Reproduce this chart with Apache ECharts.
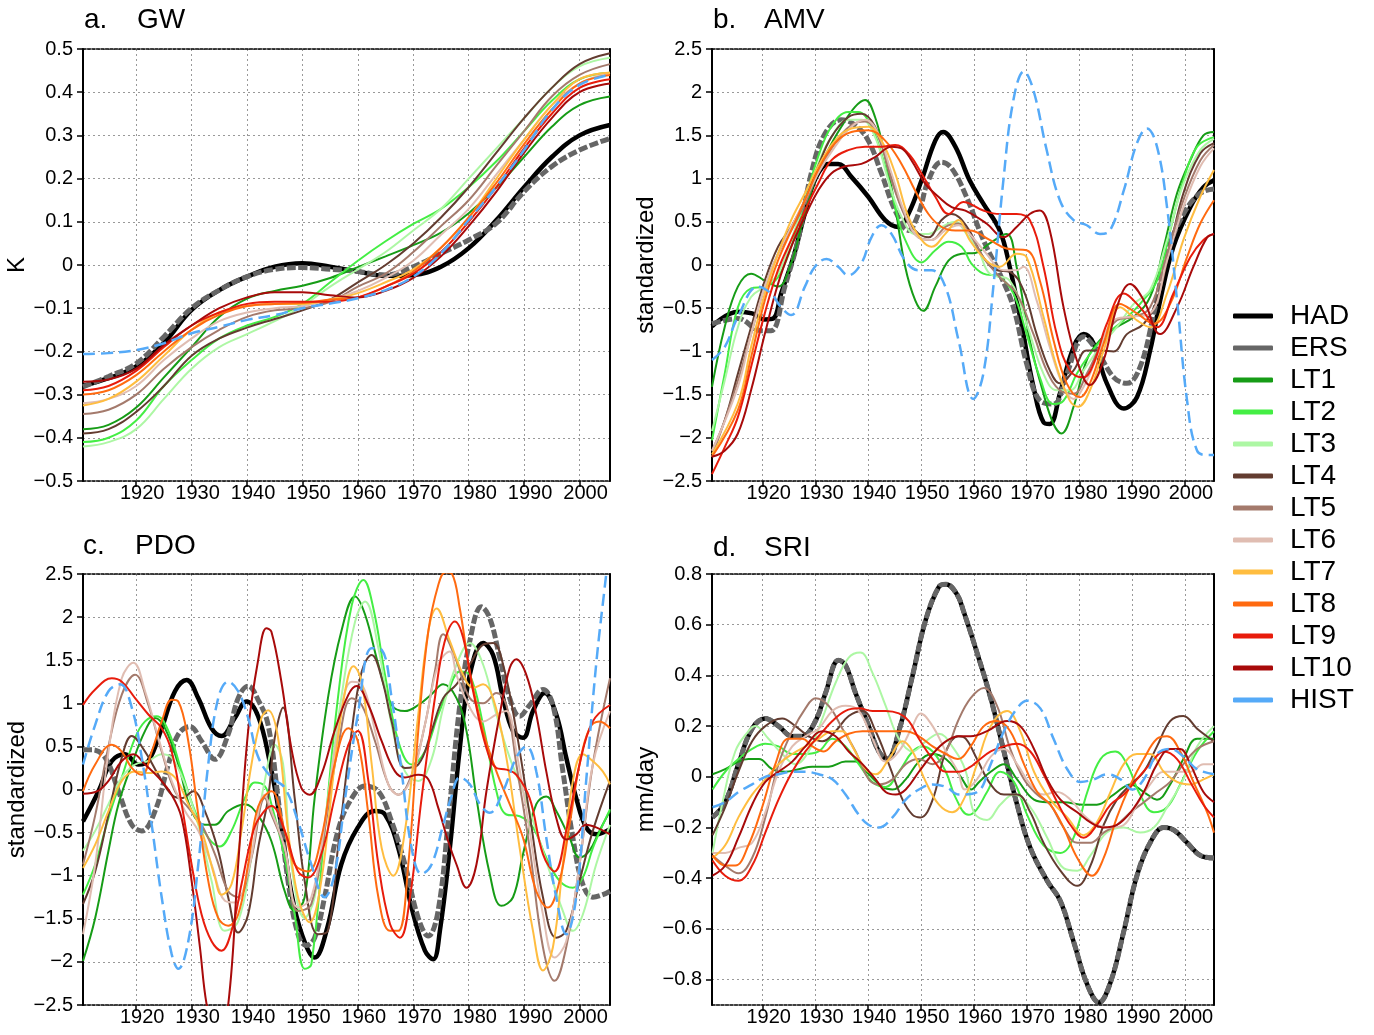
<!DOCTYPE html>
<html><head><meta charset="utf-8">
<script src="https://cdn.jsdelivr.net/npm/echarts@6/dist/echarts.min.js"></script>
<style>html,body{margin:0;padding:0;background:#fff}#c{width:1374px;height:1035px}</style>
</head><body><div id="c"></div>
<script>
// ---------------- data ----------------
const seriesNames = ['HAD','ERS','LT1','LT2','LT3','LT4','LT5','LT6','LT7','LT8','LT9','LT10','HIST'];
const decadeTicks = [1920,1930,1940,1950,1960,1970,1980,1990,2000];
const sriTicks = [-0.8,-0.6,-0.4,-0.2,0,0.2,0.4,0.6,0.8];

// a. GW (K), sampled at gwYears
const gwYears = [1910.4,1915,1920,1925,1930,1935,1940,1945,1950,1955,1960,1965,1970,1975,1980,1985,1990,1995,2000,2005.5];
const gw_HAD  = [-0.28,-0.262,-0.235,-0.18,-0.104,-0.058,-0.027,-0.004,0.004,-0.004,-0.015,-0.025,-0.023,-0.004,0.039,0.104,0.18,0.25,0.3,0.324];
const gw_ERS  = [-0.282,-0.258,-0.228,-0.166,-0.1,-0.058,-0.027,-0.01,-0.006,-0.01,-0.015,-0.023,-0.004,0.027,0.058,0.097,0.17,0.228,0.266,0.293];
const gw_LT1  = [-0.38,-0.37,-0.33,-0.26,-0.19,-0.12,-0.078,-0.06,-0.048,-0.03,-0.005,0.02,0.046,0.075,0.12,0.18,0.25,0.32,0.37,0.39];
const gw_LT2  = [-0.41,-0.40,-0.36,-0.28,-0.22,-0.17,-0.14,-0.12,-0.09,-0.04,0.01,0.055,0.095,0.13,0.18,0.24,0.31,0.38,0.43,0.445];
const gw_LT3  = [-0.42,-0.41,-0.38,-0.31,-0.24,-0.19,-0.16,-0.13,-0.095,-0.05,-0.01,0.03,0.08,0.13,0.2,0.27,0.34,0.41,0.46,0.48];
const gw_LT4  = [-0.39,-0.38,-0.34,-0.28,-0.21,-0.17,-0.145,-0.125,-0.105,-0.08,-0.04,0.0,0.05,0.11,0.18,0.26,0.34,0.41,0.465,0.49];
const gw_LT5  = [-0.345,-0.335,-0.3,-0.24,-0.19,-0.15,-0.12,-0.105,-0.1,-0.085,-0.05,-0.02,0.03,0.09,0.15,0.23,0.31,0.39,0.44,0.465];
const gw_LT6  = [-0.32,-0.31,-0.28,-0.22,-0.17,-0.13,-0.11,-0.1,-0.095,-0.08,-0.06,-0.03,0.01,0.07,0.13,0.21,0.29,0.37,0.42,0.445];
const gw_LT7  = [-0.325,-0.31,-0.27,-0.21,-0.15,-0.11,-0.095,-0.09,-0.09,-0.08,-0.065,-0.04,-0.01,0.04,0.11,0.2,0.29,0.37,0.43,0.445];
const gw_LT8  = [-0.3,-0.29,-0.255,-0.2,-0.15,-0.115,-0.095,-0.09,-0.088,-0.08,-0.075,-0.05,-0.015,0.04,0.11,0.19,0.28,0.36,0.42,0.44];
const gw_LT9  = [-0.29,-0.28,-0.245,-0.19,-0.14,-0.11,-0.09,-0.085,-0.085,-0.085,-0.075,-0.05,-0.02,0.03,0.1,0.18,0.27,0.35,0.41,0.43];
const gw_LT10 = [-0.27,-0.265,-0.24,-0.185,-0.14,-0.1,-0.075,-0.063,-0.063,-0.07,-0.075,-0.06,-0.03,0.02,0.09,0.17,0.26,0.34,0.4,0.42];
const gw_HIST = [-0.206,-0.204,-0.197,-0.181,-0.158,-0.143,-0.127,-0.116,-0.1,-0.089,-0.077,-0.058,-0.027,0.027,0.104,0.181,0.266,0.359,0.417,0.44];

// b. AMV (standardized), [year, value]
const amv_HAD = [[1910.4,-0.71],[1915.3,-0.54],[1918,-0.56],[1920.4,-0.63],[1922,-0.62],[1923.5,-0.33],[1926,0.13],[1928,0.6],[1930,1.0],[1932.4,1.17],[1934.3,1.17],[1936.8,1.02],[1940,0.79],[1943.2,0.52],[1945.7,0.44],[1947.6,0.59],[1950.1,0.98],[1952.7,1.44],[1954.2,1.54],[1956.5,1.37],[1959.2,0.98],[1961.8,0.71],[1964.9,0.40],[1966.8,-0.02],[1969,-0.68],[1971.3,-1.41],[1973.2,-1.82],[1974.4,-1.84],[1976.3,-1.49],[1978.9,-0.95],[1980.8,-0.8],[1982.7,-0.91],[1985.2,-1.37],[1988.4,-1.66],[1990.9,-1.53],[1993.4,-0.99],[1995.3,-0.41],[1997.8,0.21],[2001,0.67],[2003.5,0.9],[2005.5,0.98]];
const amv_ERS = [[1910.4,-0.68],[1915.3,-0.62],[1919.7,-0.76],[1921.6,-0.76],[1924.2,-0.25],[1926.7,0.29],[1929.2,1.06],[1931.8,1.52],[1934.9,1.68],[1937.5,1.62],[1940,1.44],[1942.5,1.06],[1945.1,0.63],[1947.6,0.40],[1949.5,0.59],[1951.4,0.98],[1953.9,1.19],[1955.8,1.12],[1958.6,0.79],[1961.8,0.29],[1964.9,-0.1],[1967.5,-0.49],[1970,-1.14],[1972.5,-1.57],[1975.1,-1.61],[1977.6,-1.26],[1980.8,-0.83],[1983.3,-0.99],[1986.5,-1.3],[1989,-1.37],[1991.5,-1.18],[1994.1,-0.56],[1996.6,0.13],[1999.7,0.59],[2002.9,0.83],[2005.5,0.88]];
const amv_LT1 = [[1910.4,-1.41],[1912.8,-0.72],[1915.3,-0.25],[1917.8,-0.1],[1920.4,-0.18],[1922.9,-0.25],[1925.4,0.02],[1927.3,0.44],[1929.9,0.98],[1932.4,1.33],[1934.9,1.6],[1937.5,1.83],[1939.4,1.91],[1941.3,1.71],[1943.2,1.25],[1945.1,0.67],[1947,-0.02],[1948.9,-0.41],[1950.4,-0.53],[1952.7,-0.25],[1955.2,0.05],[1957.7,0.13],[1960.3,0.14],[1963,0.25],[1966.2,0.36],[1968.1,-0.02],[1970.6,-0.87],[1973.2,-1.49],[1975.1,-1.84],[1976.6,-1.95],[1978.9,-1.64],[1981.4,-1.1],[1983.9,-0.87],[1987.1,-0.72],[1990.3,-0.6],[1993.4,-0.37],[1996,0.21],[1998.5,0.83],[2001,1.21],[2003.5,1.5],[2005.5,1.54]];
const amv_LT2 = [[1910.4,-2.03],[1912.8,-1.26],[1915.3,-0.49],[1917.8,-0.27],[1920.4,-0.25],[1922.9,-0.14],[1925.4,0.21],[1928,0.75],[1930.5,1.25],[1933,1.6],[1936.2,1.77],[1938.1,1.77],[1940.6,1.6],[1943.2,1.14],[1945.1,0.67],[1947,0.29],[1950.1,0.03],[1952.7,0.17],[1955.2,0.27],[1957.7,0.21],[1959.5,0.02],[1961.8,-0.1],[1964.9,-0.14],[1967.5,-0.33],[1970,-0.8],[1972.5,-1.3],[1975.1,-1.61],[1977,-1.57],[1979.5,-1.26],[1982,-1.03],[1985.2,-0.8],[1988.4,-0.64],[1991.5,-0.45],[1994.7,-0.18],[1997.2,0.4],[1999.7,0.98],[2002.3,1.37],[2005.5,1.48]];
const amv_LT3 = [[1910.4,-1.92],[1912.8,-1.34],[1915.3,-0.72],[1917.8,-0.37],[1920.4,-0.25],[1922.9,-0.1],[1925.4,0.29],[1928,0.75],[1930.5,1.17],[1933,1.48],[1936.2,1.68],[1938.7,1.68],[1941.3,1.48],[1943.8,0.98],[1946.3,0.56],[1948.9,0.36],[1951.4,0.36],[1953.9,0.44],[1956.5,0.5],[1958.6,0.36],[1961,0.15],[1963,-0.1],[1966.8,-0.18],[1970,-0.68],[1973.2,-1.26],[1975.7,-1.45],[1978.2,-1.45],[1980.8,-1.22],[1983.9,-0.95],[1987.1,-0.72],[1990.3,-0.45],[1993.4,-0.29],[1996.6,0.29],[1999.7,0.94],[2002.9,1.33],[2005.5,1.46]];
const amv_LT4 = [[1910.4,-2.15],[1912.8,-1.8],[1915.3,-1.26],[1917.8,-0.72],[1920.4,-0.18],[1922.9,0.21],[1925.4,0.44],[1928,0.75],[1930.5,1.14],[1933,1.48],[1936.2,1.71],[1938.7,1.75],[1941.3,1.6],[1943.8,1.14],[1946.3,0.67],[1948.9,0.40],[1951.4,0.32],[1953.9,0.52],[1955.8,0.59],[1958.6,0.45],[1961.8,0.09],[1964.3,-0.06],[1966.8,-0.08],[1969.4,-0.29],[1971.9,-0.8],[1974.4,-1.22],[1976.3,-1.37],[1978.9,-1.22],[1981.4,-0.99],[1983.9,-0.99],[1986.5,-1.0],[1989,-0.8],[1992.2,-0.68],[1994.7,-0.41],[1997.2,0.21],[1999.7,0.83],[2002.9,1.29],[2005.5,1.41]];
const amv_LT5 = [[1910.4,-2.22],[1915.3,-1.34],[1917.8,-0.8],[1920.4,-0.25],[1922.9,0.13],[1925.4,0.4],[1928,0.71],[1930.5,1.06],[1933.7,1.41],[1936.8,1.62],[1939.4,1.66],[1941.9,1.48],[1944.4,0.98],[1947,0.56],[1949.5,0.32],[1952,0.29],[1954.6,0.44],[1957.1,0.48],[1959.2,0.36],[1961.8,0.09],[1964.9,-0.14],[1968.1,-0.33],[1971.3,-0.8],[1973.8,-1.22],[1976.3,-1.45],[1978.9,-1.49],[1981.4,-1.26],[1983.9,-0.95],[1987.1,-0.64],[1990.3,-0.6],[1993.4,-0.49],[1996.6,0.13],[1999.7,0.75],[2002.9,1.21],[2005.5,1.39]];
const amv_LT6 = [[1910.4,-2.15],[1915.3,-1.41],[1917.8,-0.8],[1920.4,-0.25],[1922.9,0.13],[1925.4,0.44],[1928,0.75],[1930.5,1.06],[1933.7,1.37],[1936.8,1.6],[1939.4,1.68],[1941.9,1.52],[1944.4,1.06],[1947,0.59],[1949.5,0.32],[1952,0.29],[1954.6,0.40],[1957.1,0.46],[1959.2,0.36],[1962.4,0.13],[1965.6,-0.06],[1968.1,-0.06],[1969.4,-0.02],[1971.9,-0.41],[1974.4,-0.95],[1977,-1.41],[1978.9,-1.55],[1980.8,-1.41],[1983.3,-1.07],[1986.5,-0.64],[1989.6,-0.6],[1993.4,-0.56],[1996.6,0.05],[1999.7,0.67],[2002.9,1.14],[2005.5,1.35]];
const amv_LT7 = [[1910.4,-2.19],[1915.3,-1.6],[1917.8,-0.95],[1920.4,-0.33],[1922.9,0.13],[1925.4,0.52],[1928,0.83],[1930.5,1.14],[1933.7,1.44],[1936.8,1.58],[1940,1.6],[1942.5,1.44],[1945.1,1.06],[1947.6,0.56],[1950.1,0.29],[1952,0.21],[1954.6,0.36],[1957.1,0.52],[1959.2,0.29],[1962.4,0.05],[1964.9,-0.02],[1968.1,0.13],[1970,0.09],[1973.2,-0.6],[1975.7,-1.18],[1978.2,-1.57],[1979.8,-1.64],[1982,-1.45],[1984.6,-0.99],[1987.7,-0.49],[1990.9,-0.64],[1993.4,-0.72],[1996.6,-0.33],[1999.7,0.29],[2002.9,0.79],[2005.5,1.1]];
const amv_LT8 = [[1910.4,-2.22],[1915.3,-1.68],[1917.8,-1.07],[1920.4,-0.41],[1922.9,0.05],[1925.4,0.4],[1928,0.75],[1930.5,1.1],[1933.7,1.41],[1936.8,1.54],[1940,1.56],[1943.2,1.44],[1946.3,1.17],[1948.9,0.86],[1951.4,0.59],[1953.9,0.44],[1956.5,0.4],[1959.2,0.4],[1963,0.29],[1966.2,0.19],[1970,0.17],[1972.5,-0.18],[1975.1,-0.87],[1977.6,-1.37],[1980.1,-1.53],[1982,-1.37],[1984.6,-0.91],[1987.7,-0.45],[1990.9,-0.56],[1994.1,-0.68],[1997.2,-0.45],[2000.4,0.09],[2002.9,0.48],[2005.5,0.75]];
const amv_LT9 = [[1910.4,-2.42],[1912.8,-2.11],[1915.3,-1.76],[1917.8,-1.18],[1920.4,-0.56],[1922.9,-0.06],[1925.4,0.29],[1928,0.63],[1930.5,0.94],[1933,1.21],[1936.2,1.33],[1939.4,1.37],[1942.5,1.37],[1945.1,1.39],[1947.6,1.29],[1950.1,1.06],[1952.7,0.79],[1955.2,0.59],[1958,0.73],[1961.8,0.63],[1964.9,0.59],[1968.1,0.59],[1970.6,0.52],[1973.2,-0.02],[1975.7,-0.8],[1978.2,-1.22],[1980.8,-1.3],[1982.7,-1.14],[1985.2,-0.68],[1988.4,-0.33],[1991.5,-0.49],[1994.7,-0.72],[1997.8,-0.33],[2001,0.09],[2003.5,0.29],[2005.5,0.36]];
const amv_LT10 = [[1910.4,-2.22],[1912.8,-2.15],[1915.3,-1.95],[1917.8,-1.45],[1920.4,-0.8],[1922.9,-0.22],[1925.4,0.21],[1928,0.56],[1930.5,0.86],[1933,1.06],[1935.5,1.14],[1938.7,1.17],[1941.3,1.25],[1944.4,1.37],[1946.3,1.35],[1948.2,1.21],[1950.8,0.94],[1953.3,0.79],[1955.8,0.67],[1958.4,0.63],[1962.4,0.48],[1965.6,0.32],[1968.1,0.44],[1970.6,0.59],[1972.5,0.63],[1974.4,0.4],[1977,-0.49],[1979.5,-1.1],[1982,-1.39],[1984.6,-1.1],[1987.1,-0.49],[1989.6,-0.22],[1992.2,-0.41],[1995.3,-0.8],[1998.5,-0.49],[2001.6,-0.02],[2004.2,0.32],[2005.5,0.36]];
const amv_HIST = [[1910.4,-1.1],[1912.8,-0.95],[1915.3,-0.6],[1919.1,-0.25],[1921.6,-0.33],[1923.5,-0.49],[1925.4,-0.58],[1928,-0.25],[1929.9,-0.02],[1932.1,0.07],[1934.3,-0.02],[1936.2,-0.12],[1938.7,0.02],[1940.6,0.32],[1942.5,0.46],[1944.4,0.36],[1947,0.05],[1949.5,-0.06],[1952,-0.06],[1954.6,-0.25],[1957.1,-0.87],[1959.9,-1.55],[1961.8,-1.26],[1963.7,-0.25],[1965.6,0.98],[1967.5,1.91],[1969.5,2.24],[1971.3,2.02],[1973.8,1.33],[1976.3,0.75],[1978.9,0.52],[1981.4,0.46],[1983.9,0.36],[1985.8,0.40],[1988.4,0.86],[1990.9,1.41],[1992.8,1.58],[1994.7,1.37],[1996.6,0.67],[1998.5,-0.41],[2000.4,-1.57],[2002.3,-2.15],[2004.5,-2.2],[2005.5,-2.2]];

// c. PDO (standardized), [year, value]
const pdo_HAD = [[1910.4,-0.37],[1913.2,-0.02],[1915.6,0.33],[1918,0.41],[1920.4,0.29],[1922.2,0.33],[1924.6,0.71],[1927,1.14],[1929.1,1.27],[1931.2,1.06],[1933.6,0.71],[1935.4,0.62],[1937.8,0.83],[1939.9,1.02],[1942,0.85],[1944,0.35],[1946,-0.35],[1948,-1.2],[1950,-1.7],[1952.2,-1.95],[1954.5,-1.6],[1957,-0.87],[1960,-0.44],[1963,-0.25],[1964.9,-0.29],[1967.3,-0.68],[1969.7,-1.37],[1972.1,-1.87],[1973.6,-1.97],[1974.8,-1.64],[1976.6,-0.68],[1978.4,0.48],[1980.2,1.33],[1982.6,1.7],[1984.4,1.56],[1986.2,1.06],[1988,0.68],[1989.8,0.6],[1991.6,0.91],[1993.7,1.12],[1995.8,0.87],[1997.6,0.37],[1999.4,-0.1],[2001.2,-0.44],[2003,-0.52],[2005.5,-0.46]];
const pdo_ERS = [[1910.4,0.46],[1912,0.46],[1914.4,0.37],[1916.8,-0.02],[1919.2,-0.41],[1921,-0.48],[1923.4,-0.25],[1925.8,0.29],[1927.6,0.64],[1929.7,0.73],[1931.8,0.56],[1934.2,0.35],[1936.6,0.64],[1938.4,1.06],[1940.2,1.2],[1942,1.04],[1943.8,0.75],[1945.6,-0.1],[1947.4,-1.06],[1949.2,-1.68],[1950.7,-1.81],[1952.2,-1.72],[1954,-1.25],[1956.4,-0.48],[1958.9,-0.1],[1961.3,0.04],[1963.7,-0.02],[1966.1,-0.37],[1968.5,-0.87],[1970.9,-1.49],[1972.7,-1.7],[1974.5,-1.4],[1976.4,-0.3],[1978.4,0.98],[1980.2,1.72],[1982.3,2.12],[1983.8,1.99],[1985.6,1.53],[1987.4,1.06],[1989.2,0.85],[1991,0.98],[1993.4,1.16],[1995.2,0.98],[1997,0.21],[1998.8,-0.56],[2000.6,-1.1],[2002.4,-1.25],[2004.2,-1.22],[2005.5,-1.18]];
const pdo_LT1 = [[1910.4,-1.99],[1912.6,-1.49],[1915,-0.71],[1916.8,-0.17],[1919.2,0.29],[1921.6,0.68],[1923.4,0.83],[1925.2,0.71],[1927.6,0.29],[1930,-0.25],[1932.4,-0.41],[1934.2,-0.41],[1936.6,-0.25],[1939.6,-0.17],[1942,-0.3],[1944.4,-0.6],[1946.8,-1.18],[1948.6,-1.41],[1950.4,-1.25],[1952.2,-0.1],[1954.6,1.06],[1957,1.83],[1959.5,2.24],[1961.3,2.03],[1963.7,1.45],[1966.1,0.98],[1968.5,0.91],[1970.9,0.98],[1973.2,1.1],[1975.4,1.22],[1977.8,1.06],[1979.6,0.68],[1981.4,-0.1],[1983.8,-0.98],[1985.9,-1.35],[1988,-1.25],[1989.8,-0.75],[1992.2,-0.17],[1994,-0.08],[1995.8,-0.25],[1998.2,-0.56],[2000,-0.79],[2001.8,-0.71],[2003.6,-0.48],[2005.5,-0.25]];
const pdo_LT2 = [[1910.4,-1.22],[1912.6,-0.87],[1915,-0.33],[1917.4,0.14],[1919.8,0.6],[1921.6,0.79],[1923.7,0.85],[1925.8,0.68],[1928.2,0.21],[1930.6,-0.25],[1933,-0.56],[1935.1,-0.66],[1937.2,-0.48],[1939.6,-0.1],[1941.4,0.08],[1943.2,0.04],[1944.4,-0.17],[1946.8,-0.79],[1948.6,-1.45],[1950.4,-2.08],[1951.6,-2.03],[1954,-0.48],[1956.4,1.06],[1958.9,2.14],[1961,2.43],[1962.8,2.1],[1964.9,1.33],[1967.3,0.56],[1969.7,0.29],[1972.1,0.44],[1974.5,0.87],[1976.3,1.14],[1978.4,1.37],[1980.2,1.33],[1982.6,0.75],[1985,-0.02],[1986.8,-0.29],[1989.2,-0.31],[1991.6,-0.44],[1994,-0.79],[1996.4,-1.06],[1998.8,-1.14],[2000.6,-1.02],[2002.4,-0.68],[2004.2,-0.41],[2005.5,-0.23]];
const pdo_LT3 = [[1910.4,-0.71],[1912.6,-0.48],[1915,-0.17],[1917.4,0.14],[1919.8,0.29],[1922.2,0.33],[1924.6,0.41],[1926.4,0.37],[1928.8,0.06],[1931.2,-0.41],[1933.6,-1.06],[1936,-1.64],[1938.4,-1.53],[1940.8,-0.79],[1943.2,0.1],[1945,0.52],[1946.5,0.3],[1948,-0.87],[1950.4,-1.49],[1952.2,-1.25],[1954.6,-0.1],[1957,1.06],[1959.5,1.95],[1961.3,2.18],[1963.7,1.64],[1966.1,0.75],[1968.5,0.21],[1970.9,0.1],[1973.3,0.35],[1975.4,0.95],[1977.8,1.45],[1980.2,1.7],[1982.6,1.45],[1985,0.87],[1987.4,0.37],[1989.8,-0.02],[1992.2,-0.48],[1994.6,-0.95],[1997,-1.41],[1998.8,-1.64],[2000.6,-1.45],[2003,-0.87],[2005.5,-0.41]];
const pdo_LT4 = [[1910.4,-1.33],[1912.6,-0.95],[1915,-0.29],[1917.4,0.37],[1919.2,0.62],[1921.6,0.44],[1924,0.17],[1926.4,-0.06],[1928.2,-0.1],[1930.3,-0.02],[1932.4,-0.25],[1934.8,-0.71],[1936.6,-1.25],[1938.4,-1.66],[1940.2,-1.45],[1942,-0.68],[1943.8,-0.1],[1945,0.6],[1946.5,0.95],[1948.6,-0.1],[1950.4,-1.06],[1952.8,-1.68],[1954.6,-1.64],[1956.4,-0.68],[1958.9,0.68],[1960.7,1.37],[1962.5,1.56],[1964.3,1.29],[1966.1,0.79],[1968.5,0.25],[1970.9,0.29],[1973.3,0.68],[1975.4,1.06],[1977.8,1.22],[1980.2,1.45],[1982.6,1.68],[1984.4,1.7],[1986.2,1.45],[1988.6,0.68],[1991,-0.29],[1993.4,-1.25],[1995.8,-1.72],[1997.6,-1.64],[2000,-1.06],[2002.4,-0.48],[2005.5,0.1]];
const pdo_LT5 = [[1910.4,-0.87],[1912.6,-0.3],[1915,0.5],[1917.4,1.1],[1919.8,1.33],[1922.2,0.98],[1924.6,0.44],[1927,-0.02],[1929.4,-0.21],[1931.8,-0.41],[1934.2,-0.75],[1936.6,-1.18],[1938.4,-1.25],[1940.8,-0.79],[1943.2,-0.1],[1944.4,-0.29],[1946.8,-0.68],[1949.2,-1.41],[1951.6,-1.33],[1954,-0.48],[1956.4,0.48],[1958.9,1.06],[1960.7,0.98],[1963.1,0.56],[1965.5,0.06],[1967.3,-0.06],[1969.7,0.17],[1972.1,0.75],[1973.9,1.37],[1975.4,1.8],[1977.8,1.49],[1980.2,1.06],[1982.6,1.0],[1985,1.12],[1986.8,0.98],[1988.6,0.29],[1991,-0.68],[1993.4,-1.83],[1995.5,-2.22],[1997.6,-1.83],[2000,-0.87],[2002.4,0.29],[2005.5,1.29]];
const pdo_LT6 = [[1910.4,-1.68],[1912.6,-0.87],[1915,0.44],[1917.4,1.29],[1919.5,1.47],[1921.6,1.14],[1924,0.6],[1926.4,0.1],[1928.8,-0.25],[1931.2,-0.48],[1933.6,-0.87],[1936,-1.29],[1937.8,-1.31],[1940.2,-0.95],[1943.2,-0.06],[1944.4,-0.25],[1946.8,-0.68],[1949.2,-1.37],[1951.6,-1.25],[1954,-0.41],[1956.4,0.68],[1958.9,1.25],[1960.7,1.22],[1963.1,0.68],[1965.5,0.06],[1967.3,-0.06],[1969.7,0.14],[1972.1,0.75],[1974.5,1.45],[1976.6,1.6],[1977.8,1.33],[1980.2,0.95],[1982.6,0.79],[1985,0.87],[1986.8,0.91],[1988.6,0.44],[1991,-0.48],[1993.4,-1.45],[1995.5,-1.95],[1997.6,-1.76],[2000,-0.87],[2002.4,0.29],[2005.5,0.91]];
const pdo_LT7 = [[1910.4,-0.91],[1912.6,-0.64],[1915,-0.25],[1917.4,0.1],[1919.8,0.21],[1922.2,0.19],[1924.6,0.21],[1927,0.14],[1929.4,-0.17],[1931.8,-0.48],[1934.2,-1.02],[1935.4,-1.22],[1937.2,-1.1],[1939,-0.48],[1940.8,0.29],[1942.6,0.83],[1943.8,0.92],[1945.6,0.6],[1947.4,-0.48],[1949.2,-1.25],[1951.3,-1.54],[1953.4,-1.06],[1955.8,0.29],[1957.7,1.14],[1959.2,1.43],[1960.7,1.25],[1962.5,0.29],[1964.3,-0.68],[1966.4,-1.0],[1968.5,-0.48],[1970.9,0.87],[1972.7,1.83],[1974.2,2.1],[1976.6,1.72],[1979,1.33],[1980.8,1.18],[1982.6,1.22],[1984.4,1.06],[1986.8,0.37],[1989.2,-0.68],[1991.6,-1.64],[1993.4,-2.1],[1995.2,-1.83],[1997,-0.87],[1998.8,0.1],[2000.6,0.41],[2002.4,0.33],[2004.2,0.21],[2005.5,0.06]];
const pdo_LT8 = [[1910.4,-0.02],[1912.6,0.29],[1915.6,0.52],[1917.4,0.44],[1919.2,0.25],[1921,0.17],[1922.8,0.44],[1924.6,0.79],[1926.4,1.04],[1927.6,1.02],[1929.4,0.56],[1931.2,-0.29],[1933,-1.06],[1934.8,-1.49],[1936.6,-1.58],[1938.4,-1.45],[1940.2,-0.87],[1942,-0.2],[1944.4,-0.02],[1946.8,-0.48],[1948.6,-0.87],[1951,-0.95],[1953.4,-0.56],[1955.8,0.29],[1958.3,0.71],[1960,0.56],[1961.9,-0.29],[1963.7,-1.25],[1965.8,-1.64],[1967.3,-1.64],[1969.1,-0.87],[1970.9,0.68],[1972.7,1.83],[1974.5,2.37],[1975.8,2.52],[1977,2.5],[1978.4,2.1],[1980.2,1.37],[1982.6,0.68],[1985,0.21],[1987.4,-0.17],[1989.8,-0.56],[1992.2,-1.18],[1994.3,-1.37],[1996.4,-1.06],[1998.2,-0.41],[2000,0.29],[2001.8,0.71],[2003.6,0.79],[2005.5,0.71]];
const pdo_LT9 = [[1910.4,0.98],[1912.6,1.16],[1915.6,1.29],[1917.4,1.25],[1919.8,1.06],[1922.2,0.87],[1924.6,0.71],[1926.4,0.44],[1928.2,-0.17],[1930,-0.87],[1931.8,-1.45],[1933.6,-1.76],[1935.4,-1.87],[1937.2,-1.64],[1939,-1.1],[1940.8,-0.56],[1942,-0.35],[1944.4,-0.19],[1946.8,-0.48],[1949.2,-0.95],[1951,-1.02],[1953.4,-0.75],[1955.8,-0.1],[1958.3,0.52],[1960,0.68],[1961.9,0.1],[1963.7,-0.87],[1965.8,-1.56],[1967.6,-1.72],[1969.4,-1.25],[1971.5,-0.1],[1973.9,1.06],[1975.6,1.7],[1977.5,1.95],[1979,1.76],[1980.8,1.14],[1983.2,0.48],[1985,0.25],[1986.8,0.23],[1988.6,0.17],[1991,-0.1],[1993.4,-0.75],[1995.5,-0.95],[1997.6,-0.48],[2000,0.29],[2002.4,0.79],[2005.5,0.98]];
const pdo_LT10 = [[1910.4,-0.05],[1913,-0.02],[1915,0.1],[1917.4,0.33],[1919.5,0.41],[1921.6,0.29],[1924,0.14],[1926.4,-0.06],[1928.2,-0.33],[1930,-1.06],[1931.5,-1.83],[1932.7,-2.49],[1934.6,-3.0],[1936.6,-2.5],[1938.4,-0.87],[1940.2,0.68],[1942,1.5],[1943.5,1.87],[1944.4,1.83],[1946.2,1.25],[1948,0.48],[1949.8,0.02],[1951.3,-0.06],[1953.4,0.17],[1955.8,0.68],[1958.3,1.1],[1959.8,1.2],[1961.9,0.98],[1964.3,0.56],[1966.7,0.21],[1968.5,0.14],[1970.9,0.17],[1972.7,0.12],[1974.5,-0.21],[1976.3,-0.6],[1977.8,-0.87],[1979.6,-1.14],[1981.4,-0.87],[1983.2,-0.02],[1985.6,0.87],[1987.4,1.41],[1988.6,1.51],[1990.4,1.33],[1992.2,0.87],[1994,0.21],[1995.8,-0.33],[1997.6,-0.58],[1999.4,-0.52],[2001.2,-0.41],[2003,-0.44],[2005.5,-0.52]];
const pdo_HIST = [[1910.4,0.29],[1912.6,0.75],[1915,1.14],[1917.1,1.22],[1919.2,0.95],[1921,0.37],[1922.8,-0.41],[1924.6,-1.25],[1926.4,-1.91],[1927.6,-2.08],[1929.4,-1.76],[1931.2,-0.87],[1933,0.29],[1934.8,1.06],[1936.6,1.25],[1938.4,1.14],[1940.2,0.83],[1942,0.38],[1944.4,0.14],[1946.8,0.02],[1949.2,-0.37],[1951.6,-0.87],[1954,-1.25],[1955.8,-0.98],[1957.7,-0.1],[1960,0.87],[1962.5,1.64],[1964.3,1.62],[1966.1,1.06],[1967.9,0.21],[1969.7,-0.68],[1971.5,-0.98],[1973.3,-0.87],[1975.4,-0.41],[1976.8,-0.1],[1978.4,0.14],[1980.2,0.06],[1982,-0.17],[1983.8,-0.27],[1986.2,-0.02],[1988.6,0.37],[1990.4,0.5],[1992.2,0.21],[1994,-0.56],[1995.8,-1.25],[1997.6,-1.68],[1999.4,-1.25],[2001.2,0.1],[2003,1.45],[2004.8,2.49],[2005.5,2.9]];

// d. SRI (mm/day), [year, value]; observed curve shared by HAD and ERS
const sri_OBS = [[1910.5,-0.16],[1912.9,-0.1],[1915.4,0.05],[1918,0.19],[1920.5,0.23],[1923,0.2],[1925.6,0.16],[1927.5,0.16],[1930,0.22],[1931.9,0.33],[1934.4,0.46],[1935.7,0.44],[1937.6,0.33],[1940.1,0.2],[1942,0.1],[1943.6,0.07],[1945.8,0.18],[1948.4,0.4],[1950.9,0.62],[1953.4,0.75],[1954.7,0.76],[1956.8,0.72],[1958.1,0.65],[1960.6,0.49],[1963.2,0.31],[1965.7,0.1],[1968.2,-0.11],[1970.7,-0.28],[1973.9,-0.41],[1976.4,-0.49],[1978.9,-0.65],[1981.5,-0.82],[1983.7,-0.89],[1985.9,-0.81],[1988.4,-0.61],[1990.9,-0.39],[1993.4,-0.26],[1996,-0.2],[1997.9,-0.21],[2000.4,-0.26],[2002.9,-0.31],[2005.5,-0.32]];
const sri_LT1 = [[1910.5,0.01],[1912.9,0.03],[1915.4,0.06],[1917.3,0.07],[1919.3,0.07],[1921.8,0.03],[1924.3,0.02],[1926.8,0.03],[1929.4,0.04],[1932.5,0.04],[1935.7,0.06],[1937.6,0.06],[1940.1,0.01],[1942.7,-0.04],[1944.6,-0.05],[1947.1,-0.01],[1949.6,0.06],[1952.2,0.09],[1954.7,0.07],[1957.2,0.01],[1959.5,-0.05],[1961,-0.02],[1963.2,0.02],[1965.7,0.05],[1968.2,-0.01],[1971.4,-0.09],[1973.9,-0.1],[1977,-0.1],[1980.8,-0.11],[1983.3,-0.11],[1986.5,-0.07],[1989.7,-0.03],[1992.2,-0.06],[1994.7,-0.09],[1997.2,-0.03],[1999.7,0.07],[2002.3,0.15],[2005.5,0.15]];
const sri_LT2 = [[1910.5,-0.05],[1912.9,0.02],[1915.4,0.07],[1918,0.11],[1920.5,0.13],[1923,0.12],[1925.6,0.09],[1928.1,0.09],[1930.6,0.1],[1933.2,0.15],[1935.7,0.12],[1938.2,0.05],[1940.8,-0.02],[1943.3,-0.04],[1945.8,0.02],[1948.4,0.1],[1950.3,0.12],[1952.2,0.1],[1954.7,0.02],[1956.5,-0.08],[1959,-0.15],[1960.5,-0.13],[1962.5,-0.06],[1965,0.02],[1967.6,-0.02],[1970.1,-0.15],[1973.2,-0.27],[1976.4,-0.3],[1978.9,-0.24],[1981.5,-0.06],[1984,0.07],[1986.8,0.1],[1989,0.05],[1991.5,-0.07],[1994.1,-0.14],[1996.6,-0.12],[1999.1,-0.03],[2002.3,0.1],[2005.5,0.18]];
const sri_LT3 = [[1910.5,-0.3],[1912.3,-0.11],[1914.8,0.1],[1917.3,0.18],[1918.6,0.2],[1921.1,0.15],[1923.7,0.09],[1926.2,0.05],[1928.7,0.1],[1931.3,0.23],[1933.8,0.37],[1936.3,0.47],[1938.5,0.49],[1940.8,0.41],[1943.3,0.28],[1945.8,0.15],[1948.4,0.1],[1950.9,0.14],[1953.4,0.17],[1955.9,0.12],[1958.5,0.02],[1960,-0.14],[1962.5,-0.17],[1965,-0.11],[1967.6,-0.07],[1970.7,-0.12],[1973.9,-0.24],[1977,-0.36],[1979.6,-0.37],[1982.1,-0.31],[1985.2,-0.22],[1988.4,-0.2],[1991.5,-0.22],[1994.1,-0.2],[1996.6,-0.12],[1999.7,-0.01],[2002.3,0.12],[2005.5,0.2]];
const sri_LT4 = [[1910.5,-0.23],[1912.9,-0.12],[1915.4,0.02],[1918,0.14],[1920.5,0.2],[1923.7,0.23],[1926.2,0.2],[1928.7,0.16],[1931.3,0.14],[1933.8,0.18],[1936.3,0.24],[1938.9,0.26],[1941.4,0.18],[1943.9,0.05],[1946.5,-0.09],[1948.4,-0.15],[1949.9,-0.16],[1952.2,-0.09],[1954.7,0.1],[1957,0.16],[1958.5,0.15],[1960.6,0.07],[1963.2,-0.03],[1965.7,-0.07],[1968.2,-0.07],[1970.7,-0.14],[1973.2,-0.26],[1976.4,-0.37],[1979.6,-0.43],[1982.1,-0.35],[1984.6,-0.19],[1987.1,-0.09],[1989.7,-0.03],[1992.2,0.02],[1994.7,0.12],[1997.2,0.22],[1999.7,0.24],[2002.3,0.19],[2005.5,0.14]];
const sri_LT5 = [[1910.5,-0.31],[1912.9,-0.35],[1915.4,-0.38],[1918,-0.32],[1920.5,-0.16],[1923,0.05],[1925.6,0.18],[1928.1,0.27],[1930,0.31],[1932.5,0.28],[1935.1,0.19],[1937.6,0.1],[1940.1,-0.01],[1942,-0.03],[1944.6,-0.01],[1947.1,0.05],[1949.6,0.07],[1952.2,0.05],[1954.7,0.1],[1957,0.22],[1959.4,0.31],[1961.9,0.35],[1964.4,0.28],[1966.9,0.11],[1969.5,-0.01],[1972,-0.07],[1974.5,-0.11],[1977,-0.2],[1979.6,-0.26],[1982.1,-0.26],[1984.6,-0.22],[1987.1,-0.19],[1989.7,-0.14],[1992.2,-0.1],[1994.7,-0.06],[1997.2,-0.02],[1999.7,0.05],[2002.3,0.11],[2005.5,0.14]];
const sri_LT6 = [[1910.5,-0.3],[1912.9,-0.3],[1915.4,-0.28],[1918,-0.26],[1920.5,-0.14],[1923,0.02],[1925.6,0.12],[1928.1,0.16],[1930.6,0.19],[1933.2,0.26],[1935.7,0.28],[1938.2,0.26],[1940.8,0.15],[1943.3,0.06],[1945.8,0.1],[1948.4,0.2],[1949.9,0.25],[1952.2,0.2],[1954.7,0.1],[1957,0.02],[1958.3,-0.05],[1960.6,-0.01],[1963.2,0.08],[1965.7,0.11],[1968.2,0.05],[1970.7,-0.03],[1973.2,-0.07],[1975.8,-0.06],[1978.3,-0.09],[1980.8,-0.15],[1983.3,-0.19],[1985.9,-0.2],[1988.4,-0.19],[1990.9,-0.11],[1993.4,-0.03],[1996,0.02],[1998.5,0.02],[2001,0.02],[2003.5,0.05],[2005.5,0.05]];
const sri_LT7 = [[1910.5,-0.32],[1912.9,-0.27],[1915.4,-0.16],[1918,-0.07],[1920.5,-0.01],[1923,0.05],[1925.6,0.09],[1928.1,0.12],[1930.6,0.15],[1933.2,0.18],[1935.1,0.18],[1937,0.12],[1939.5,0.03],[1941.4,0.01],[1943.9,0.07],[1946.5,0.14],[1948.4,0.1],[1950.9,-0.02],[1953.4,-0.11],[1955.9,-0.14],[1958.3,-0.08],[1960.6,0.05],[1963.2,0.2],[1966.3,0.26],[1968.8,0.18],[1971.4,0.02],[1974.5,-0.09],[1977.7,-0.16],[1980.8,-0.23],[1983.3,-0.18],[1985.9,-0.06],[1988.4,0.05],[1990.9,0.09],[1993.4,0.09],[1996,0.02],[1998.5,-0.02],[2001,-0.03],[2003.5,-0.01],[2005.5,0.01]];
const sri_LT8 = [[1910.5,-0.31],[1912.9,-0.35],[1914.8,-0.35],[1917.3,-0.27],[1919.9,-0.12],[1922.4,0.05],[1924.9,0.15],[1927.5,0.15],[1929.4,0.12],[1931.6,0.1],[1933.8,0.14],[1936.3,0.17],[1938.9,0.18],[1942,0.18],[1944.6,0.18],[1947.1,0.18],[1949.6,0.16],[1952.2,0.12],[1954.7,0.09],[1957,0.07],[1959.4,0.12],[1961.9,0.2],[1964.4,0.22],[1966.9,0.18],[1969.5,0.05],[1972,-0.06],[1974.5,-0.11],[1977,-0.2],[1979.6,-0.32],[1982.4,-0.39],[1984.6,-0.32],[1987.1,-0.16],[1989.7,-0.03],[1992.2,0.07],[1994.7,0.15],[1996.6,0.16],[1999.1,0.1],[2001.6,-0.02],[2004.2,-0.14],[2005.5,-0.22]];
const sri_LT9 = [[1910.5,-0.33],[1912.9,-0.39],[1915.4,-0.41],[1918,-0.35],[1920.5,-0.22],[1923,-0.09],[1925.6,0.02],[1928.1,0.1],[1930.6,0.16],[1933.2,0.22],[1935.7,0.26],[1938.2,0.27],[1940.8,0.26],[1943.3,0.26],[1945.8,0.25],[1947.7,0.22],[1949.6,0.15],[1952.2,0.07],[1954.7,0.02],[1957.2,0.02],[1959.4,0.04],[1960.6,0.06],[1963.2,0.1],[1965.7,0.12],[1968.2,0.13],[1970.7,0.1],[1973.2,0.01],[1975.8,-0.1],[1978.3,-0.19],[1980.8,-0.24],[1983.3,-0.19],[1985.9,-0.11],[1988.4,-0.07],[1990.9,-0.01],[1993.4,0.05],[1996,0.1],[1998.5,0.07],[2001,-0.02],[2003.5,-0.11],[2005.5,-0.16]];
const sri_LT10 = [[1910.5,-0.39],[1912.9,-0.35],[1915.4,-0.24],[1918,-0.11],[1920.5,-0.02],[1923,0.02],[1925.6,0.06],[1928.1,0.12],[1931.3,0.18],[1933.8,0.16],[1936.3,0.1],[1938.9,0.05],[1941.4,-0.01],[1943.3,-0.06],[1945.2,-0.07],[1947.1,-0.05],[1949.6,0.02],[1952.2,0.09],[1954.7,0.14],[1957.2,0.16],[1959.4,0.16],[1962.5,0.18],[1966.3,0.22],[1968.8,0.2],[1971.4,0.11],[1973.9,-0.01],[1976.4,-0.09],[1979.6,-0.14],[1982.1,-0.18],[1984.6,-0.2],[1987.1,-0.19],[1989.7,-0.14],[1992.2,-0.06],[1994.7,0.05],[1997.2,0.11],[1999.1,0.11],[2001,0.05],[2003.5,-0.06],[2005.5,-0.1]];
const sri_HIST = [[1910.5,-0.12],[1912.9,-0.1],[1915.4,-0.06],[1918,-0.03],[1920.5,0.0],[1923,0.01],[1925.6,0.02],[1928.1,0.02],[1930.6,0.01],[1933.2,-0.01],[1935.7,-0.07],[1938.2,-0.15],[1940.1,-0.19],[1942,-0.2],[1944.6,-0.16],[1947.1,-0.09],[1949.6,-0.05],[1952.2,-0.03],[1954.7,-0.04],[1957.2,-0.07],[1960.6,-0.06],[1963.2,0.05],[1965.7,0.18],[1968.2,0.27],[1970.1,0.3],[1972.6,0.27],[1975.1,0.15],[1977.7,0.03],[1980.2,-0.02],[1982.7,-0.01],[1985.2,0.01],[1987.8,-0.01],[1990,-0.05],[1992.2,-0.01],[1994.7,0.09],[1997.2,0.11],[1999.7,0.08],[2002.3,0.03],[2005.5,0.01]];

// ---------------- build ----------------
const pairs = (xs, ys) => xs.map((x, i) => [x, ys[i]]);
const panelSeries = [
  {HAD:pairs(gwYears,gw_HAD),ERS:pairs(gwYears,gw_ERS),LT1:pairs(gwYears,gw_LT1),LT2:pairs(gwYears,gw_LT2),LT3:pairs(gwYears,gw_LT3),LT4:pairs(gwYears,gw_LT4),LT5:pairs(gwYears,gw_LT5),LT6:pairs(gwYears,gw_LT6),LT7:pairs(gwYears,gw_LT7),LT8:pairs(gwYears,gw_LT8),LT9:pairs(gwYears,gw_LT9),LT10:pairs(gwYears,gw_LT10),HIST:pairs(gwYears,gw_HIST)},
  {HAD:amv_HAD,ERS:amv_ERS,LT1:amv_LT1,LT2:amv_LT2,LT3:amv_LT3,LT4:amv_LT4,LT5:amv_LT5,LT6:amv_LT6,LT7:amv_LT7,LT8:amv_LT8,LT9:amv_LT9,LT10:amv_LT10,HIST:amv_HIST},
  {HAD:pdo_HAD,ERS:pdo_ERS,LT1:pdo_LT1,LT2:pdo_LT2,LT3:pdo_LT3,LT4:pdo_LT4,LT5:pdo_LT5,LT6:pdo_LT6,LT7:pdo_LT7,LT8:pdo_LT8,LT9:pdo_LT9,LT10:pdo_LT10,HIST:pdo_HIST},
  {HAD:sri_OBS,ERS:sri_OBS,LT1:sri_LT1,LT2:sri_LT2,LT3:sri_LT3,LT4:sri_LT4,LT5:sri_LT5,LT6:sri_LT6,LT7:sri_LT7,LT8:sri_LT8,LT9:sri_LT9,LT10:sri_LT10,HIST:sri_HIST}
];

const FONT = '"Liberation Sans", Arial, sans-serif';
const TICKFONT = '"Liberation Sans Narrow", "Liberation Sans", Arial, sans-serif';
const STY = {
  HAD:{c:'#000000',w:4.5,t:'solid'},
  ERS:{c:'#666666',w:5,t:[9,2.5]},
  LT1:{c:'#169c16',w:2},
  LT2:{c:'#44ee44',w:2},
  LT3:{c:'#adf7a4',w:2},
  LT4:{c:'#633c30',w:2},
  LT5:{c:'#a47a6c',w:2},
  LT6:{c:'#e0bdb2',w:2},
  LT7:{c:'#ffbd40',w:2},
  LT8:{c:'#ff6a10',w:2},
  LT9:{c:'#e81c0c',w:2},
  LT10:{c:'#a80a0a',w:2},
  HIST:{c:'#55aaf8',w:2.5,t:[12,6]}
};

const grids = [
  {left:83, top:49, width:527, height:432},
  {left:712, top:49, width:502, height:432},
  {left:83, top:574, width:527, height:431},
  {left:712, top:574, width:502, height:431}
];
const yDefs = [
  {min:-0.5, max:0.5, interval:0.1, name:'K'},
  {min:-2.5, max:2.5, interval:0.5, name:'standardized'},
  {min:-2.5, max:2.5, interval:0.5, name:'standardized'},
  {min:-0.9, max:0.8, custom:sriTicks, name:'mm/day'}
];
const fmt = v => { const s = String(parseFloat(Number(v).toFixed(2))); return s.replace('-', '\u2212'); };
const dashedBlack = {color:'#000', width:1.5, type:[3,1.5]};
const xAxes = [], yAxes = [], series = [];
grids.forEach((g, i) => {
  xAxes.push({
    type:'value', gridIndex:i, min:1910.4, max:2005.5, position:'bottom',
    axisLine:{show:true, onZero:false, lineStyle:dashedBlack},
    axisTick:{show:true, length:6, customValues:decadeTicks, lineStyle:{color:'#000', width:1.5}},
    axisLabel:{show:true, customValues:decadeTicks, margin:2, color:'#000', fontSize:20, fontFamily:TICKFONT,
      padding:[0,0,0,12], formatter:v => String(Math.round(v))},
    splitLine:{show:true, lineStyle:{color:'#999', width:1, type:[2,3]}}
  });
  xAxes.push({
    type:'value', gridIndex:i, min:1910.4, max:2005.5, position:'top',
    axisLine:{show:true, onZero:false, lineStyle:dashedBlack},
    axisTick:{show:false}, axisLabel:{show:false}, splitLine:{show:false}
  });
  const yd = yDefs[i];
  const yl = {
    type:'value', gridIndex:i, min:yd.min, max:yd.max, position:'left',
    name:yd.name, nameLocation:'middle', nameGap:50, nameRotate:90,
    nameTextStyle:{fontSize:24, fontFamily:FONT, color:'#000'},
    axisLine:{show:true, onZero:false, lineStyle:{color:'#000', width:2}},
    axisTick:{show:true, length:6, lineStyle:{color:'#000', width:1.5}},
    axisLabel:{show:true, margin:10, color:'#000', fontSize:20, fontFamily:TICKFONT, formatter:fmt},
    splitLine:{show:true, lineStyle:{color:'#999', width:1, type:[2,3]}}
  };
  if (yd.custom) { yl.axisTick.customValues = yd.custom; yl.axisLabel.customValues = yd.custom; }
  else { yl.interval = yd.interval; }
  yAxes.push(yl);
  yAxes.push({
    type:'value', gridIndex:i, min:yd.min, max:yd.max, position:'right',
    axisLine:{show:true, onZero:false, lineStyle:{color:'#000', width:2}},
    axisTick:{show:false}, axisLabel:{show:false}, splitLine:{show:false}
  });
  seriesNames.forEach(n => {
    const s = STY[n];
    series.push({
      type:'line', name:n, xAxisIndex:2*i, yAxisIndex:2*i,
      data:panelSeries[i][n], showSymbol:false, symbol:'none', smooth:0.4,
      color:s.c, clip:true, animation:false,
      lineStyle:{color:s.c, width:s.w, type:s.t || 'solid', cap:'butt'},
      emphasis:{disabled:true}
    });
  });
});

const tStyle = {fontSize:28, fontWeight:'normal', fontFamily:FONT, color:'#000'};
const titles = [
  ['a.',84,6],['GW',137,6],['b.',713,6],['AMV',764,6],
  ['c.',83,532],['PDO',135,532],['d.',713,534],['SRI',764,534]
].map(([t,l,tp]) => ({text:t, left:l, top:tp, padding:0, textStyle:tStyle}));

const chart = echarts.init(document.getElementById('c'), null, {renderer:'canvas'});
chart.setOption({
  animation:false,
  backgroundColor:'#fff',
  title:titles,
  grid:grids.map(g => Object.assign({containLabel:false, outerBoundsMode:'none'}, g)),
  xAxis:xAxes, yAxis:yAxes,
  legend:{
    orient:'vertical', left:1233, top:302, itemWidth:40, itemHeight:5, itemGap:4,
    icon:'roundRect', selectedMode:false, padding:0,
    data:seriesNames,
    textStyle:{fontSize:28, lineHeight:28, fontFamily:FONT, color:'#000', padding:[0,0,0,12]}
  },
  series:series
});
</script>
</body></html>
